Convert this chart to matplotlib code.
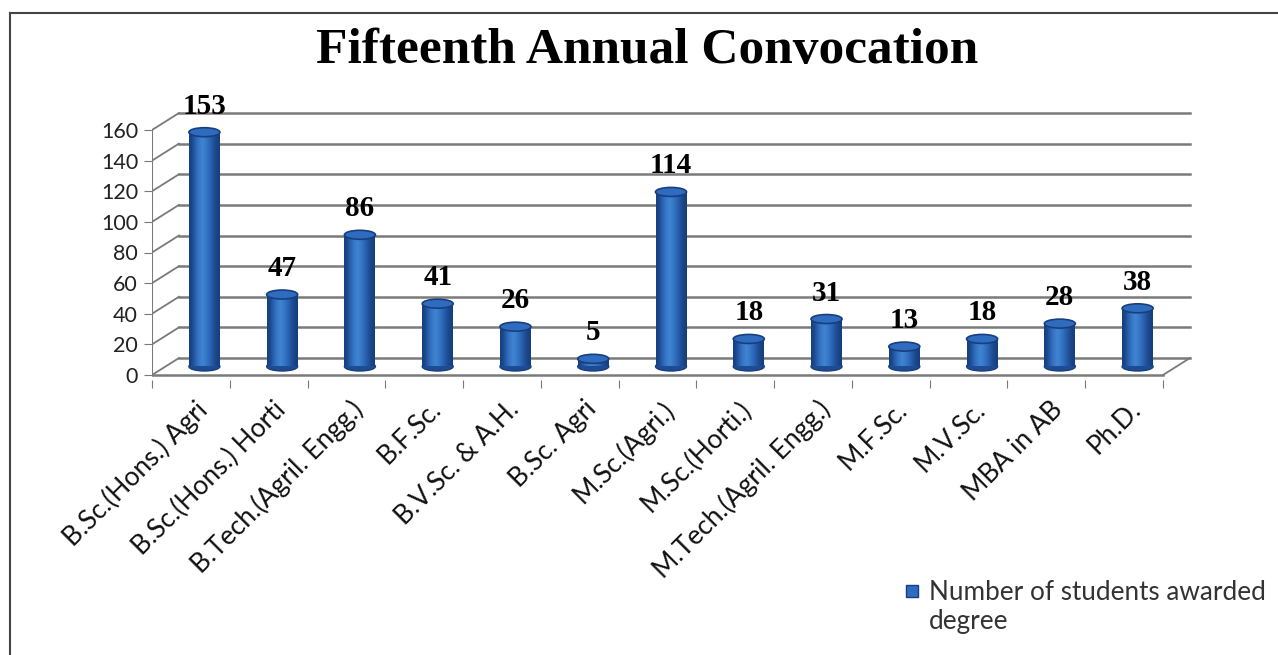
import numpy as np
import matplotlib.pyplot as plt
from matplotlib.patches import Rectangle, Ellipse
from matplotlib.colors import LinearSegmentedColormap

categories = ['B.Sc.(Hons.) Agri', 'B.Sc.(Hons.) Horti', 'B.Tech.(Agril. Engg.)', 'B.F.Sc.',
              'B.V.Sc. & A.H.', 'B.Sc. Agri', 'M.Sc.(Agri.)', 'M.Sc.(Horti.)',
              'M.Tech.(Agril. Engg.)', 'M.F.Sc.', 'M.V.Sc.', 'MBA in AB', 'Ph.D.']
students = [153, 47, 86, 41, 26, 5, 114, 18, 31, 13, 18, 28, 38]
yticks = [0, 20, 40, 60, 80, 100, 120, 140, 160]
series_name = 'Number of students awarded\ndegree'

W, H = 1278, 655
fig = plt.figure(figsize=(W / 100, H / 100), dpi=100)

# axes placed in pixels: front plane x 152..1163 for 13 categories, y 375 (0) .. 130 (160)
px_per_cat = (1163 - 152) / 13
px_per_unit = (375 - 130) / 160
left_px, right_px, bot_px, top_px = 152, 1200, 380, 100
ax = fig.add_axes([left_px / W, 1 - bot_px / H, (right_px - left_px) / W, (bot_px - top_px) / H])
ax.set_xlim(0, (right_px - left_px) / px_per_cat)
ax.set_ylim(-(bot_px - 375) / px_per_unit, (375 - top_px) / px_per_unit)
for s in ax.spines.values():
    s.set_visible(False)

dx = 27 / px_per_cat      # depth offset in data units
dy = 17 / px_per_unit
n = len(categories)
grid_c = '#7a7a7a'

# back wall grid, side wall and floor
for v in yticks:
    ax.plot([dx, n + dx], [v + dy, v + dy], color=grid_c, lw=1.8, zorder=1)
    ax.plot([0, dx], [v, v + dy], color=grid_c, lw=1.3, zorder=1)
ax.plot([0, n], [0, 0], color=grid_c, lw=1.8, zorder=1)
ax.plot([n, n + dx], [0, dy], color=grid_c, lw=1.3, zorder=1)
ax.plot([0, 0], [0, yticks[-1]], color=grid_c, lw=1.5, zorder=1)

ax.set_yticks(yticks)
ax.set_xticks(np.arange(n + 1))
ax.set_xticklabels([])
ax.tick_params(axis='y', length=6, color=grid_c, labelsize=15.5, pad=4, labelcolor='#222222')
ax.tick_params(axis='x', length=6, color=grid_c, direction='out')
for lbl in ax.get_yticklabels():
    lbl.set_fontfamily('Lato')

# cylinders
blue = LinearSegmentedColormap.from_list('cyl', ['#173f7e', '#2a64b4', '#3f84d2', '#2a64b4', '#173f7e'])
bw = 31 / px_per_cat
eh = 9 / px_per_unit
grad = np.array([[0.0, 0.2, 0.4, 0.5, 0.6, 0.75, 0.9, 1.0]])
for i, v in enumerate(students):
    xc = i + 0.5 + dx / 2
    y0 = dy / 2
    y1 = v + dy / 2
    body = Rectangle((xc - bw / 2, y0), bw, y1 - y0, facecolor='none', edgecolor='none', zorder=3)
    ax.add_patch(body)
    im = ax.imshow(grad, cmap=blue, vmin=0, vmax=1, extent=(xc - bw / 2, xc + bw / 2, y0, y1),
                   aspect='auto', interpolation='bicubic', zorder=3)
    im.set_clip_path(body)
    ax.add_patch(Ellipse((xc, y0), bw, eh, facecolor='#1d4c93', edgecolor='#173f7e', lw=1, zorder=2.9))
    ax.add_patch(Ellipse((xc, y1), bw, eh, facecolor='#2f6cc0', edgecolor='#173f7e', lw=1.2, zorder=4))
    ax.annotate(str(v), (xc, y1), xytext=(0, 9), textcoords='offset points', ha='center', va='bottom',
                fontsize=21, fontweight='bold', family='Liberation Serif', zorder=5)

# category labels
for i, c in enumerate(categories):
    ax.text(i + 0.55, -14, c, rotation=45, rotation_mode='anchor', ha='right', va='top',
            fontsize=19, family='Lato', color='#111111', transform=ax.transData)

fig.text(0.506, 1 - 51 / H, 'Fifteenth Annual Convocation', ha='center', va='center',
         fontsize=37, fontweight='bold', family='Liberation Serif')

# legend
fig.patches.append(Rectangle((906 / W, 1 - 597 / H), 12 / W, 12 / H, transform=fig.transFigure,
                             facecolor='#2f6cc0', edgecolor='#173f7e', figure=fig))
fig.text(929 / W, 1 - 580 / H, series_name, ha='left', va='top', fontsize=18.8, family='Lato',
         color='#333333', linespacing=1.2)

# outer frame (left and top edges visible)
fig.add_artist(plt.Line2D([10 / W, 10 / W], [0, 1 - 13 / H], color='#444444', lw=1.5, transform=fig.transFigure))
fig.add_artist(plt.Line2D([10 / W, 1], [1 - 13 / H, 1 - 13 / H], color='#444444', lw=1.5, transform=fig.transFigure))

fig.savefig('out.png', dpi=100)
